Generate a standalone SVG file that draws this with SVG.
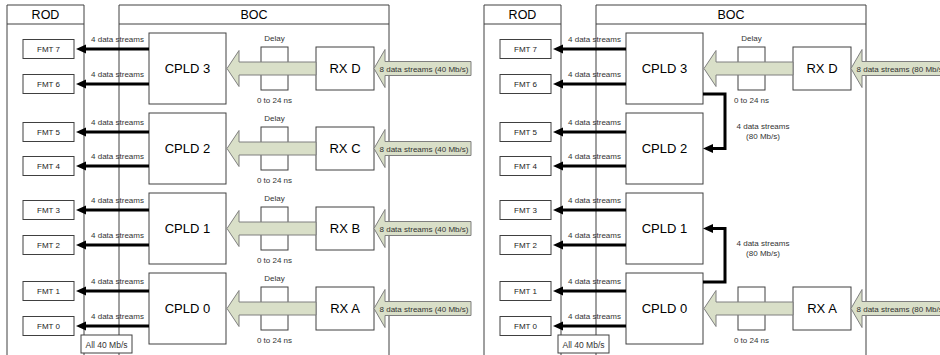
<svg xmlns="http://www.w3.org/2000/svg" width="940" height="355" viewBox="0 0 940 355">
<style>
text{font-family:"Liberation Sans",Arial,sans-serif;text-anchor:middle}
.panel{fill:none;stroke:#404040;stroke-width:1}
.div{fill:none;stroke:#808080;stroke-width:1}
.box{fill:#fff;stroke:#404040;stroke-width:1}
.hdr{font-size:12.5px;fill:#000}
.big{font-size:13px;fill:#000}
.fmt{font-size:8px;fill:#222}
.sm{font-size:8px;fill:#333}
.blk{fill:none;stroke:#000;stroke-width:3;marker-end:url(#ah)}
.grn{fill:#d9dfc8;stroke:#7f7f7f;stroke-width:1}
</style>
<defs>
<marker id="ah" markerUnits="userSpaceOnUse" markerWidth="11" markerHeight="10" refX="2" refY="4.5" orient="auto" overflow="visible">
<path d="M0,0 L10,4.5 L0,9 z" fill="#000"/>
</marker>
</defs>
<rect width="940" height="355" fill="#fff"/>

<!-- LEFT PANEL -->
<g id="left">
<g id="L-rod">
<path class="panel" d="M7,360 V5 H84 V360 M7,24 H84"/>
<text class="hdr" x="45.5" y="19">ROD</text>
</g>
<g id="L-boc">
<path class="panel" d="M119,360 V5 H389 V360 M119,24 H389"/>
<text class="hdr" x="254" y="19">BOC</text>
</g>
<g id="L-fmt7"><rect class="box" x="23" y="39.5" width="51" height="19"/><text class="fmt" x="48.5" y="52">FMT 7</text></g>
<g id="L-fmt6"><rect class="box" x="23" y="74.5" width="51" height="19"/><text class="fmt" x="48.5" y="87">FMT 6</text></g>
<g id="L-fmt5"><rect class="box" x="23" y="122.5" width="51" height="19"/><text class="fmt" x="48.5" y="135">FMT 5</text></g>
<g id="L-fmt4"><rect class="box" x="23" y="156.5" width="51" height="19"/><text class="fmt" x="48.5" y="169">FMT 4</text></g>
<g id="L-fmt3"><rect class="box" x="23" y="200.5" width="51" height="19"/><text class="fmt" x="48.5" y="213">FMT 3</text></g>
<g id="L-fmt2"><rect class="box" x="23" y="235.5" width="51" height="19"/><text class="fmt" x="48.5" y="248">FMT 2</text></g>
<g id="L-fmt1"><rect class="box" x="23" y="281.5" width="51" height="19"/><text class="fmt" x="48.5" y="294">FMT 1</text></g>
<g id="L-fmt0"><rect class="box" x="23" y="316.5" width="51" height="19"/><text class="fmt" x="48.5" y="329">FMT 0</text></g>

<g id="L-cpld3"><rect class="box" x="149" y="33" width="77" height="71"/><text class="big" x="187.5" y="73">CPLD 3</text></g>
<g id="L-cpld2"><rect class="box" x="149" y="113" width="77" height="71"/><text class="big" x="187.5" y="153">CPLD 2</text></g>
<g id="L-cpld1"><rect class="box" x="149" y="193" width="77" height="71"/><text class="big" x="187.5" y="233">CPLD 1</text></g>
<g id="L-cpld0"><rect class="box" x="149" y="273" width="77" height="71"/><text class="big" x="187.5" y="313">CPLD 0</text></g>

<g id="L-delayD"><rect class="box" x="261" y="47" width="27" height="43"/><text class="sm" x="274.5" y="41">Delay</text><text class="sm" x="274.5" y="103">0 to 24 ns</text></g>
<g id="L-delayC"><rect class="box" x="261" y="127" width="27" height="43"/><text class="sm" x="274.5" y="121">Delay</text><text class="sm" x="274.5" y="183">0 to 24 ns</text></g>
<g id="L-delayB"><rect class="box" x="261" y="207" width="27" height="43"/><text class="sm" x="274.5" y="201">Delay</text><text class="sm" x="274.5" y="263">0 to 24 ns</text></g>
<g id="L-delayA"><rect class="box" x="261" y="287" width="27" height="43"/><text class="sm" x="274.5" y="281">Delay</text><text class="sm" x="274.5" y="343">0 to 24 ns</text></g>

<g id="L-rxD"><rect class="box" x="316" y="47" width="58" height="43"/><text class="big" x="345" y="73">RX D</text></g>
<g id="L-rxC"><rect class="box" x="316" y="127" width="58" height="43"/><text class="big" x="345" y="153">RX C</text></g>
<g id="L-rxB"><rect class="box" x="316" y="207" width="58" height="43"/><text class="big" x="345" y="233">RX B</text></g>
<g id="L-rxA"><rect class="box" x="316" y="287" width="58" height="43"/><text class="big" x="345" y="313">RX A</text></g>

<g id="L-connectors">
<path class="blk" d="M149,49 H84"/><text class="sm" x="117.5" y="41.5">4 data streams</text>
<path class="blk" d="M149,84 H84"/><text class="sm" x="117.5" y="76.5">4 data streams</text>
<path class="blk" d="M149,132 H84"/><text class="sm" x="117.5" y="124.5">4 data streams</text>
<path class="blk" d="M149,166 H84"/><text class="sm" x="117.5" y="158.5">4 data streams</text>
<path class="blk" d="M149,210 H84"/><text class="sm" x="117.5" y="202.5">4 data streams</text>
<path class="blk" d="M149,245 H84"/><text class="sm" x="117.5" y="237.5">4 data streams</text>
<path class="blk" d="M149,291 H84"/><text class="sm" x="117.5" y="283.5">4 data streams</text>
<path class="blk" d="M149,326 H84"/><text class="sm" x="117.5" y="318.5">4 data streams</text>
<path class="grn" d="M227,68.5 L239,50.5 V62 H316 V75 H239 V86.5 Z"/>
<path class="grn" d="M227,148.5 L239,130.5 V142 H316 V155 H239 V166.5 Z"/>
<path class="grn" d="M227,228.5 L239,210.5 V222 H316 V235 H239 V246.5 Z"/>
<path class="grn" d="M227,308.5 L239,290.5 V302 H316 V315 H239 V326.5 Z"/>
<path class="grn" d="M374,68.5 L385,49.5 V61.5 H471 V75.5 H385 V87.5 Z"/><text class="sm" x="424" y="71.5">8 data streams (40 Mb/s)</text>
<path class="grn" d="M374,148.5 L385,129.5 V141.5 H471 V155.5 H385 V167.5 Z"/><text class="sm" x="424" y="151.5">8 data streams (40 Mb/s)</text>
<path class="grn" d="M374,228.5 L385,209.5 V221.5 H471 V235.5 H385 V247.5 Z"/><text class="sm" x="424" y="231.5">8 data streams (40 Mb/s)</text>
<path class="grn" d="M374,308.5 L385,289.5 V301.5 H471 V315.5 H385 V327.5 Z"/><text class="sm" x="424" y="311.5">8 data streams (40 Mb/s)</text>
</g>
<g id="L-all40"><rect class="box" x="81" y="335" width="51" height="18"/><text class="sm" x="106.5" y="347.5" style="font-size:8.5px">All 40 Mb/s</text></g>
</g>

<!-- RIGHT PANEL -->
<g id="right" transform="translate(477,0)">
<g id="R-rod">
<path class="panel" d="M7,360 V5 H84 V360 M7,24 H84"/>
<text class="hdr" x="45.5" y="19">ROD</text>
</g>
<g id="R-boc">
<path class="panel" d="M119,360 V5 H389 V360 M119,24 H389"/>
<text class="hdr" x="254" y="19">BOC</text>
</g>
<g id="R-fmt7"><rect class="box" x="23" y="39.5" width="51" height="19"/><text class="fmt" x="48.5" y="52">FMT 7</text></g>
<g id="R-fmt6"><rect class="box" x="23" y="74.5" width="51" height="19"/><text class="fmt" x="48.5" y="87">FMT 6</text></g>
<g id="R-fmt5"><rect class="box" x="23" y="122.5" width="51" height="19"/><text class="fmt" x="48.5" y="135">FMT 5</text></g>
<g id="R-fmt4"><rect class="box" x="23" y="156.5" width="51" height="19"/><text class="fmt" x="48.5" y="169">FMT 4</text></g>
<g id="R-fmt3"><rect class="box" x="23" y="200.5" width="51" height="19"/><text class="fmt" x="48.5" y="213">FMT 3</text></g>
<g id="R-fmt2"><rect class="box" x="23" y="235.5" width="51" height="19"/><text class="fmt" x="48.5" y="248">FMT 2</text></g>
<g id="R-fmt1"><rect class="box" x="23" y="281.5" width="51" height="19"/><text class="fmt" x="48.5" y="294">FMT 1</text></g>
<g id="R-fmt0"><rect class="box" x="23" y="316.5" width="51" height="19"/><text class="fmt" x="48.5" y="329">FMT 0</text></g>

<g id="R-cpld3"><rect class="box" x="149" y="33" width="77" height="71"/><text class="big" x="187.5" y="73">CPLD 3</text></g>
<g id="R-cpld2"><rect class="box" x="149" y="113" width="77" height="71"/><text class="big" x="187.5" y="153">CPLD 2</text></g>
<g id="R-cpld1"><rect class="box" x="149" y="193" width="77" height="71"/><text class="big" x="187.5" y="233">CPLD 1</text></g>
<g id="R-cpld0"><rect class="box" x="149" y="273" width="77" height="71"/><text class="big" x="187.5" y="313">CPLD 0</text></g>

<g id="R-delayD"><rect class="box" x="261" y="47" width="27" height="43"/><text class="sm" x="274.5" y="41">Delay</text><text class="sm" x="274.5" y="103">0 to 24 ns</text></g>
<g id="R-delayA"><rect class="box" x="261" y="287" width="27" height="43"/><text class="sm" x="274.5" y="343">0 to 24 ns</text></g>

<g id="R-rxD"><rect class="box" x="316" y="47" width="58" height="43"/><text class="big" x="345" y="73">RX D</text></g>
<g id="R-rxA"><rect class="box" x="316" y="287" width="58" height="43"/><text class="big" x="345" y="313">RX A</text></g>

<g id="R-connectors">
<path class="blk" d="M149,49 H84"/><text class="sm" x="117.5" y="41.5">4 data streams</text>
<path class="blk" d="M149,84 H84"/><text class="sm" x="117.5" y="76.5">4 data streams</text>
<path class="blk" d="M149,132 H84"/><text class="sm" x="117.5" y="124.5">4 data streams</text>
<path class="blk" d="M149,166 H84"/><text class="sm" x="117.5" y="158.5">4 data streams</text>
<path class="blk" d="M149,210 H84"/><text class="sm" x="117.5" y="202.5">4 data streams</text>
<path class="blk" d="M149,245 H84"/><text class="sm" x="117.5" y="237.5">4 data streams</text>
<path class="blk" d="M149,291 H84"/><text class="sm" x="117.5" y="283.5">4 data streams</text>
<path class="blk" d="M149,326 H84"/><text class="sm" x="117.5" y="318.5">4 data streams</text>
<path class="blk" d="M226,94 H248 V148.5 H234"/>
<text class="sm" x="286" y="129">4 data streams</text><text class="sm" x="286" y="139">(80 Mb/s)</text>
<path class="blk" d="M226,282 H248 V228.5 H234"/>
<text class="sm" x="286" y="246">4 data streams</text><text class="sm" x="286" y="256">(80 Mb/s)</text>
<path class="grn" d="M227,68.5 L239,50.5 V62 H316 V75 H239 V86.5 Z"/>
<path class="grn" d="M227,308.5 L239,290.5 V302 H316 V315 H239 V326.5 Z"/>
<path class="grn" d="M374,68.5 L385,49.5 V61.5 H471 V75.5 H385 V87.5 Z"/><text class="sm" x="424" y="71.5">8 data streams (80 Mb/s)</text>
<path class="grn" d="M374,308.5 L385,289.5 V301.5 H471 V315.5 H385 V327.5 Z"/><text class="sm" x="424" y="311.5">8 data streams (80 Mb/s)</text>
</g>
<g id="R-all40"><rect class="box" x="81" y="335" width="51" height="18"/><text class="sm" x="106.5" y="347.5" style="font-size:8.5px">All 40 Mb/s</text></g>
</g>
</svg>
